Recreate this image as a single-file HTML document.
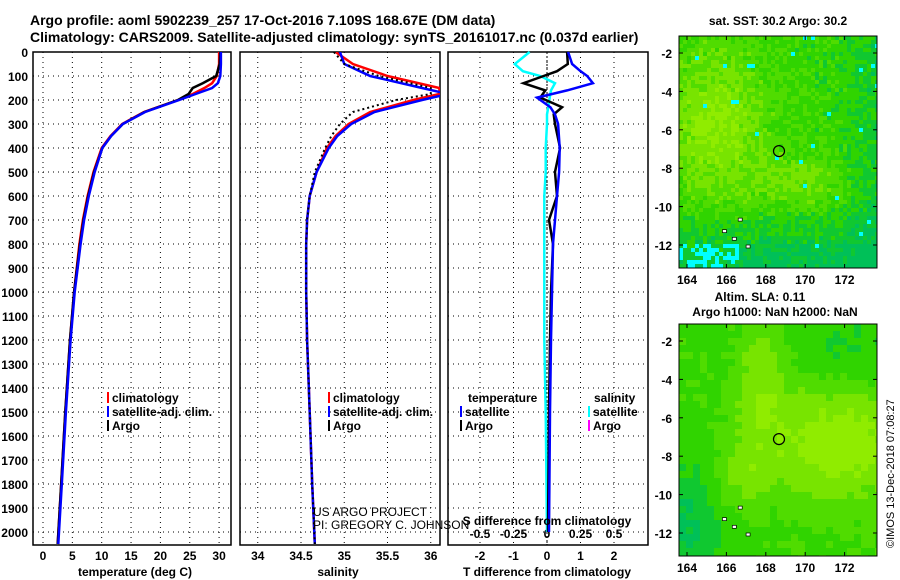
<!DOCTYPE html>
<html><head><meta charset="utf-8"><style>
body{margin:0;background:#fff}
svg{display:block;font-family:"Liberation Sans",sans-serif;font-weight:bold}
</style></head><body>
<svg id="c" width="900" height="580" xmlns="http://www.w3.org/2000/svg">
<text x="30" y="25" font-size="14">Argo profile: aoml 5902239_257 17-Oct-2016 7.109S 168.67E (DM data)</text>
<text x="30" y="42" font-size="14">Climatology: CARS2009. Satellite-adjusted climatology: synTS_20161017.nc (0.037d earlier)</text>
<g id="maps"></g>
<g id="plots"></g>
</svg>
<script>
// ---- data ----
const tDepth=[0,50,100,130,150,175,200,250,300,350,400,500,600,700,800,1000,1200,1500,1800,2050];
const tClim=[30.0,30.0,29.6,28.8,27.5,25.5,23.0,17.2,13.5,11.5,10.0,8.6,7.6,6.8,6.2,5.3,4.6,3.8,3.1,2.5];
const tSat=[30.3,30.3,30.2,29.8,28.8,26.0,23.2,17.4,13.6,11.6,10.1,8.8,7.8,7.0,6.4,5.4,4.7,3.9,3.2,2.6];
const tArgo=[30.2,30.1,29.5,27.2,25.5,24.8,23.0,17.3,13.6,11.6,10.1,8.7,7.7,6.9,6.3,5.3,4.6,3.8,3.1,2.5];
const sDepth=[0,50,100,150,175,200,250,300,350,400,500,600,700,800,1000,1200,1500,1800,2050];
const sClim=[34.9,35.1,35.5,36.1,36.1,35.8,35.3,35.05,34.9,34.8,34.68,34.6,34.57,34.56,34.56,34.57,34.6,34.63,34.66];
const sSat=[34.95,35.0,35.3,35.9,36.2,35.9,35.35,35.08,34.92,34.82,34.68,34.6,34.57,34.56,34.56,34.57,34.6,34.63,34.66];
const sArgo=[34.88,35.0,35.4,36.0,36.0,35.6,35.1,34.95,34.85,34.78,34.66,34.6,34.57,34.56,34.56,34.57,34.6,34.63,34.66];
const dDepth=[0,50,80,100,130,160,190,230,260,300,400,500,600,700,800,1000,1200,1500,2000];
const dTSat=[0.63,0.75,1.0,1.2,1.37,0.6,-0.3,0.1,0.24,0.33,0.38,0.36,0.3,0.24,0.18,0.15,0.12,0.09,0.06];
const dTArgo=[0.6,0.62,0.3,-0.1,-0.7,-0.05,-0.2,0.45,0.2,0.24,0.39,0.24,0.3,0.06,0.18,0.12,0.09,0.06,0.03];
const dSSat=[-0.13,-0.24,-0.18,-0.05,0.06,0.03,0.02,0.01,0.0,0.0,-0.01,-0.01,-0.02,-0.02,-0.02,-0.02,-0.02,-0.01,0.0];
const depthTicks=[0,100,200,300,400,500,600,700,800,900,1000,1100,1200,1300,1400,1500,1600,1700,1800,1900,2000];
const tTicks=[0,5,10,15,20,25,30];
const sTicks=[34,34.5,35,35.5,36];
const dTicks=[-2,-1,0,1,2];
const dsTicks=[-0.5,-0.25,0,0.25,0.5];
const mapY=[-2,-4,-6,-8,-10,-12];
const mapX=[164,166,168,170,172];

const NS="http://www.w3.org/2000/svg";
function el(tag,attrs,parent,txt){const e=document.createElementNS(NS,tag);for(const k in attrs)e.setAttribute(k,attrs[k]);if(txt!==undefined)e.textContent=txt;parent.appendChild(e);return e;}
const P=document.getElementById('plots');
const yD=d=>52+d*0.24;
function panel(x0,x1,xs,ticks,fmt,name){
  const g=el('g',{},P);
  
  
  depthTicks.forEach(d=>{if(d>0)el('line',{x1:x0,x2:x1,y1:yD(d),y2:yD(d),stroke:'#000','stroke-dasharray':'1,4'},g);});
  ticks.forEach(t=>{el('line',{x1:xs(t),x2:xs(t),y1:52,y2:545,stroke:'#000','stroke-dasharray':'1,4'},g);
    const lb=el('text',{x:xs(t),y:560,'font-size':12,'text-anchor':'middle'},g,fmt(t));
    
    });
  el('rect',{x:x0,y:52,width:x1-x0,height:493,fill:'none',stroke:'#000','stroke-width':1.5},g);
  return g;
}
function line(g,xs,xv,dv,col,w,dash,name,clip){
  const pts=xv.map((v,i)=>xs(v).toFixed(1)+','+yD(dv[i]).toFixed(1)).join(' ');
  const p=el('polyline',{points:pts,fill:'none',stroke:col,'stroke-width':w},g);
  if(dash)p.setAttribute('stroke-dasharray',dash);
  if(clip)p.setAttribute('clip-path',clip);
  
  
}
const defs=el('defs',{},P);
const cp2=el('clipPath',{id:'clip2'},defs);el('rect',{x:240,y:52,width:200,height:493},cp2);
// panel 1
const xT=t=>43+t*5.87;
const g1=panel(33,231,xT,tTicks,String,'temperature-panel');
depthTicks.forEach(d=>{const t=el('text',{x:28,y:yD(d)+5,'font-size':12,'text-anchor':'end'},g1,d);});
line(g1,xT,tClim,tDepth,'#f00',2.5,null,'temp-climatology-line');
line(g1,xT,tArgo,tDepth,'#000',2.5,null,'temp-argo-line');
line(g1,xT,tSat,tDepth,'#00f',2.5,null,'temp-satellite-line');
el('text',{x:135,y:576,'font-size':12,'text-anchor':'middle'},g1,'temperature (deg C)');
// panel 2
const xS=s=>301+(s-34.5)*86.5;
const g2=panel(240,440,xS,sTicks,String,'salinity-panel');
line(g2,xS,sClim,sDepth,'#f00',2.5,null,'sal-climatology-line','url(#clip2)');
line(g2,xS,sSat,sDepth,'#00f',2.5,null,'sal-satellite-line','url(#clip2)');
line(g2,xS,sArgo,sDepth,'#000',2,'2,3','sal-argo-line','url(#clip2)');
el('text',{x:338,y:576,'font-size':12,'text-anchor':'middle'},g2,'salinity');
// panel 3
const xDT=v=>547+v*33.5, xDS=v=>547+v*134;
const g3=panel(448,648,xDT,dTicks,String,'difference-panel');
dsTicks.forEach(t=>{const s=el('text',{x:xDS(t),y:538,'font-size':12,'text-anchor':'middle'},g3,String(t));});
el('line',{x1:547,x2:547,y1:52,y2:545,stroke:'#000','stroke-dasharray':'2,2'},g3);
line(g3,xDS,dSSat,dDepth,'#0ff',2.5,null,'sdiff-satellite-line');
line(g3,xDT,dTArgo,dDepth,'#000',2.5,null,'tdiff-argo-line');
line(g3,xDT,dTSat,dDepth,'#00f',2.5,null,'tdiff-satellite-line');
el('text',{x:547,y:525,'font-size':12,'text-anchor':'middle'},g3,'S difference from climatology');
el('text',{x:547,y:576,'font-size':12,'text-anchor':'middle'},g3,'T difference from climatology');
// legends
function leg(x,y,col,txt,g){el('rect',{x:x,y:y-10,width:2,height:11,fill:col},g);const t=el('text',{x:x+5,y:y,'font-size':12},g,txt);}
leg(107,402,'#f00','climatology',g1);leg(107,416,'#00f','satellite-adj. clim.',g1);leg(107,430,'#000','Argo',g1);
leg(328,402,'#f00','climatology',g2);leg(328,416,'#00f','satellite-adj. clim.',g2);leg(328,430,'#000','Argo',g2);
el('text',{x:468,y:402,'font-size':12},g3,'temperature');
leg(460,416,'#00f','satellite',g3);leg(460,430,'#000','Argo',g3);
el('text',{x:594,y:402,'font-size':12},g3,'salinity');
leg(588,416,'#0ff','satellite',g3);leg(588,430,'#f0f','Argo',g3);
el('text',{x:313,y:516,'font-size':12,'font-weight':'normal'},P,'US ARGO PROJECT');
el('text',{x:313,y:529,'font-size':12,'font-weight':'normal'},P,'PI: GREGORY C. JOHNSON');

// maps
const M=document.getElementById('maps');
function rnd(i,j,s){let h=(i*374761393+j*668265263+s*1442695041)|0;h=(h^(h>>>13))*1274126177|0;return ((h^(h>>>16))>>>0)/4294967296;}
const G=(x,y,cx,cy,sx,sy)=>Math.exp(-((x-cx)*(x-cx)/(2*sx*sx)+(y-cy)*(y-cy)/(2*sy*sy)));
const pal=['#00c058','#10c830','#30d400','#50dc00','#78e400','#90ec00'];
function map(y0,seed,name){
  const g=el('g',{},M);
  
  
  const x0=679,w=198,h=232,c=seed==1?4:7;
  for(let j=0;j*c<h;j++)for(let i=0;i*c<w;i++){
    const x=(i*c)/w,y=(j*c)/h,r=rnd(i,j,seed);
    let v,col;
    if(seed==1){
      v=2.2+2.6*G(x,y,0.18,0.38,0.17,0.22)+1.6*G(x,y,0.6,0.62,0.15,0.08)-2.2*Math.max(0,(y-0.7)/0.3)-1.2*Math.max(0,(x-0.75)/0.25)+(r-0.5)*1.6;
      const cyan=(y>0.88&&x<0.3&&r<0.5)||(r>0.992);
      v=Math.max(0,Math.min(5,Math.round(v)));col=cyan?'#00ffff':pal[v];
    }else{
      v=2.3+3*G(x,y,0.78,0.5,0.25,0.17)+1.6*G(x,y,0.4,0.33,0.1,0.14)+1.6*G(x,y,0.3,0.64,0.1,0.1)+1.3*G(x,y,0.4,0.1,0.08,0.1)-2*G(x,y,0,0.85,0.15,0.2)-1*G(x,y,0.85,0.1,0.2,0.1)+(r-0.5)*0.6;
      v=Math.max(0,Math.min(5,Math.round(v)));col=pal[v];
    }
    el('rect',{x:x0+i*c,y:y0+j*c,width:Math.min(c,w-i*c),height:Math.min(c,h-j*c),fill:col},g);
  }
  el('rect',{x:x0,y:y0,width:w,height:h,fill:'none',stroke:'#000'},g);
  const yM=v=>y0+17+(-2-v)*19.2, xM=v=>687+(v-164)*19.7;
  mapY.forEach(v=>{el('line',{x1:x0,x2:x0+4,y1:yM(v),y2:yM(v),stroke:'#000'},g);el('line',{x1:x0+w,x2:x0+w-4,y1:yM(v),y2:yM(v),stroke:'#000'},g);el('text',{x:x0-7,y:yM(v)+5,'font-size':12,'text-anchor':'end'},g,v);});
  mapX.forEach(v=>{el('line',{x1:xM(v),x2:xM(v),y1:y0+h,y2:y0+h-4,stroke:'#000'},g);el('line',{x1:xM(v),x2:xM(v),y1:y0,y2:y0+4,stroke:'#000'},g);el('text',{x:xM(v),y:y0+h+16,'font-size':12,'text-anchor':'middle'},g,v);});
  const cp=el('circle',{cx:xM(168.67),cy:yM(-7.109),r:5.5,fill:'none',stroke:'#000','stroke-width':1.2},g);
  
  
  [[165.8,-11.2],[166.6,-10.6],[167,-12.0],[166.3,-11.6]].forEach(p=>el('rect',{x:xM(p[0]),y:yM(p[1]),width:4,height:3,fill:'#fff',stroke:'#000','stroke-width':0.7},g));
}
map(36,1,'sst-map');
map(324,2,'sla-map');
el('text',{x:778,y:25,'font-size':12,'text-anchor':'middle'},M,'sat. SST: 30.2 Argo: 30.2');
el('text',{x:760,y:301,'font-size':12,'text-anchor':'middle'},M,'Altim. SLA: 0.11');
el('text',{x:775,y:316,'font-size':12,'text-anchor':'middle'},M,'Argo h1000: NaN h2000: NaN');
el('text',{x:0,y:0,'font-size':11,'font-weight':'normal',transform:'translate(894,548) rotate(-90)'},M,'©IMOS 13-Dec-2018 07:08:27');
</script>
</body></html>
